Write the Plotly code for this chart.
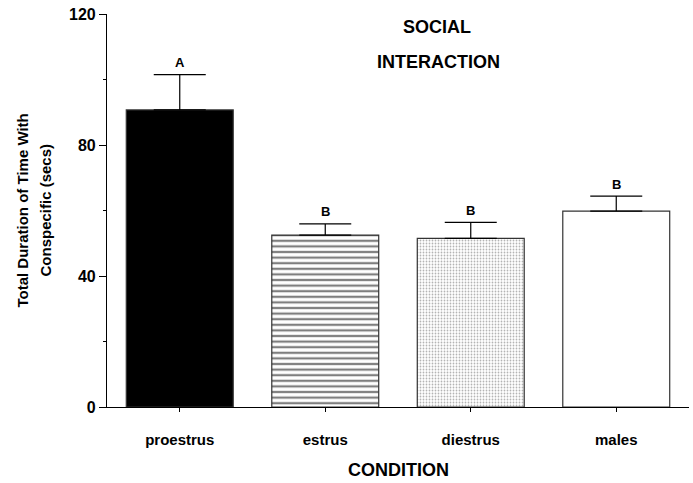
import plotly.graph_objects as go

# Social interaction: mean total time with a conspecific, by condition
conditions = ["proestrus", "estrus", "diestrus", "males"]
mean_secs = [90.7, 52.5, 51.5, 59.8]
sem_secs = [10.8, 3.4, 4.9, 4.6]
group_letters = ["A", "B", "B", "B"]
y_ticks = [0, 40, 80, 120]
y_minor = [20, 60, 100]

FONT = "Liberation Sans, Arial, Helvetica, sans-serif"

fig = go.Figure()

# one trace per bar so each can carry its own fill pattern
fills = [
    dict(color="black", pattern=dict(shape="")),
    dict(color="white", pattern=dict(shape="-", fgcolor="black", bgcolor="white",
                                     size=5.6, solidity=0.4, fillmode="overlay")),
    dict(color="white", pattern=dict(shape=".", fgcolor="#6a6a6a", bgcolor="white",
                                     size=3, solidity=0.28, fillmode="overlay")),
    dict(color="white", pattern=dict(shape="")),
]

for cond, m, e, f in zip(conditions, mean_secs, sem_secs, fills):
    fig.add_trace(go.Bar(
        x=[cond], y=[m],
        width=0.735,
        marker=dict(color=f["color"], pattern=f["pattern"],
                    line=dict(color="#333333", width=1.2)),
        error_y=dict(type="data", symmetric=False, array=[e], arrayminus=[0],
                     color="black", thickness=1.2, width=26),
        showlegend=False,
    ))

# significance letters above each error bar
for cond, m, e, letter in zip(conditions, mean_secs, sem_secs, group_letters):
    fig.add_annotation(x=cond, y=m + e, text=f"<b>{letter}</b>", showarrow=False,
                       yanchor="middle", yshift=12,
                       font=dict(family=FONT, size=13, color="black"))

# panel title
fig.add_annotation(x=0.567, y=0.967, xref="paper", yref="paper", text="<b>SOCIAL</b>",
                   showarrow=False, xanchor="center", yanchor="middle",
                   font=dict(family=FONT, size=18, color="black"))
fig.add_annotation(x=0.569, y=0.878, xref="paper", yref="paper", text="<b>INTERACTION</b>",
                   showarrow=False, xanchor="center", yanchor="middle",
                   font=dict(family=FONT, size=18, color="black"))

# axis titles
fig.add_annotation(x=-0.146, y=0.5, xref="paper", yref="paper",
                   text="<b>Total Duration of Time With</b>", textangle=-90,
                   showarrow=False, xanchor="center", yanchor="middle",
                   font=dict(family=FONT, size=15, color="black"))
fig.add_annotation(x=-0.1065, y=0.5, xref="paper", yref="paper",
                   text="<b>Conspecific (secs)</b>", textangle=-90,
                   showarrow=False, xanchor="center", yanchor="middle",
                   font=dict(family=FONT, size=15, color="black"))
fig.add_annotation(x=0.5, y=-0.160, xref="paper", yref="paper",
                   text="<b>CONDITION</b>",
                   showarrow=False, xanchor="center", yanchor="middle",
                   font=dict(family=FONT, size=18, color="black"))

fig.update_layout(
    width=693, height=483,
    margin=dict(l=107, r=4, t=14, b=76),
    paper_bgcolor="white", plot_bgcolor="white",
    bargap=0.265,
    font=dict(family=FONT, color="black"),
)

fig.update_xaxes(
    type="category", categoryorder="array", categoryarray=conditions,
    range=[-0.5, 3.5],
    showline=True, linecolor="black", linewidth=1.2,
    ticks="outside", ticklen=4, tickwidth=1, tickcolor="black",
    tickfont=dict(family=FONT, size=15, color="black"),
    ticktext=[f"<b>{c}</b>" for c in conditions], tickvals=conditions,
    ticklabelstandoff=15,
    showgrid=False, zeroline=False,
)

fig.update_yaxes(
    range=[0, 120],
    tickvals=y_ticks, ticktext=[f"<b>{t}</b>" for t in y_ticks],
    showline=True, linecolor="black", linewidth=1.2,
    ticks="outside", ticklen=7, tickwidth=1, tickcolor="black",
    tickfont=dict(family=FONT, size=16, color="black"),
    minor=dict(tickvals=y_minor, ticks="outside", ticklen=3, tickcolor="black", showgrid=False),
    showgrid=False, zeroline=False,
)

fig.write_html("out.html")
